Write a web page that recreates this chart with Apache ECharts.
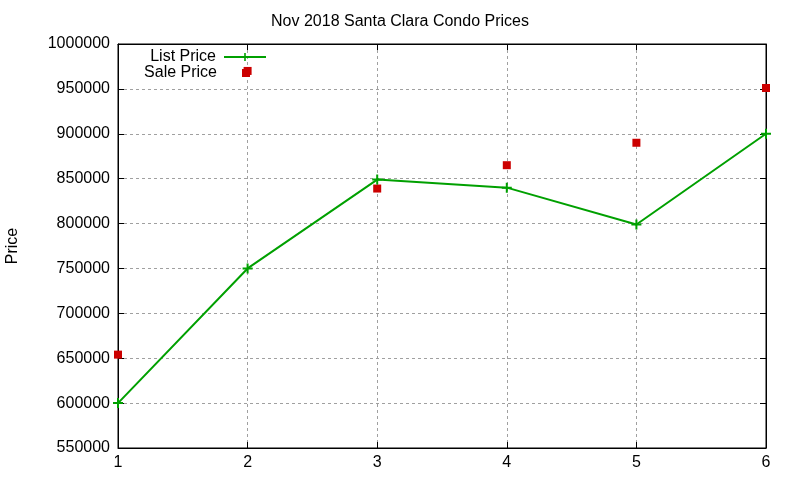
<!DOCTYPE html>
<html>
<head>
	<meta charset="utf-8" />
	<title>Nov 2018 Santa Clara Condo Prices</title>
	<style type="text/css">
	*{margin: 0;padding: 0;}
	#chart{width: 800px;height: 480px;background: #fff;}
	</style>
</head>
<body>
<div id="chart"></div>
<script src="https://cdn.jsdelivr.net/npm/echarts@6/dist/echarts.min.js"></script>
<script type="text/javascript">
	// data
	var months = [1, 2, 3, 4, 5, 6];
	var listPrice = [600000, 750000, 849000, 840000, 799000, 900000];
	var salePrice = [654000, 970000, 839000, 865000, 890000, 951000];

	var font = 'Liberation Sans, Arial, sans-serif';
	var plus = 'path://M4,0H6V4H10V6H6V10H4V6H0V4H4Z';

	var pairs = function(xs, ys) {
		var out = [];
		for (var i = 0; i < xs.length; i++) {
			out.push([xs[i], ys[i]]);
		}
		return out;
	};

	var gridLine = {show: true, lineStyle: {color: '#a0a0a0', type: [3, 3], width: 1}};
	var axisLine = {show: true, lineStyle: {color: '#000', width: 1}};
	var tick = {show: true, inside: true, length: 6, lineStyle: {color: '#000'}};

	var option = {
		animation: false,
		backgroundColor: '#fff',
		title: {
			text: 'Nov 2018 Santa Clara Condo Prices',
			left: 'center',
			top: 9,
			textStyle: {fontFamily: font, fontSize: 16, fontWeight: 'normal', color: '#000'}
		},
		legend: [
			{
				data: ['List Price'],
				align: 'right',
				right: 528,
				top: 44,
				itemWidth: 42,
				itemHeight: 10,
				textStyle: {fontFamily: font, fontSize: 16, color: '#000', padding: [0, 3, 0, 0]}
			},
			{
				data: ['Sale Price'],
				align: 'right',
				right: 545,
				top: 60,
				itemWidth: 8,
				itemHeight: 8,
				textStyle: {fontFamily: font, fontSize: 16, color: '#000', padding: [0, 20, 0, 0]}
			}
		],
		grid: {
			left: 118, right: 34, top: 44, bottom: 32,
			outerBoundsMode: 'none',
			show: true, borderColor: '#000', borderWidth: 1
		},
		xAxis: [
			{
				type: 'value', min: 1, max: 6, interval: 1,
				axisLine: axisLine, axisTick: tick, splitLine: gridLine,
				axisLabel: {fontFamily: font, fontSize: 16, color: '#000', margin: 7}
			},
			{
				type: 'value', position: 'top', min: 1, max: 6, interval: 1,
				axisLine: axisLine, axisTick: tick, splitLine: {show: false},
				axisLabel: {show: false}
			}
		],
		yAxis: [
			{
				type: 'value', min: 550000, max: 1000000, interval: 50000,
				name: 'Price', nameLocation: 'middle', nameGap: 97, nameRotate: 90,
				nameTextStyle: {fontFamily: font, fontSize: 16, color: '#000'},
				axisLine: axisLine, axisTick: tick, splitLine: gridLine,
				axisLabel: {
					fontFamily: font, fontSize: 16, color: '#000', margin: 8,
					formatter: function(v) { return String(v); }
				}
			},
			{
				type: 'value', position: 'right', min: 550000, max: 1000000, interval: 50000,
				axisLine: axisLine, axisTick: tick, splitLine: {show: false},
				axisLabel: {show: false}
			}
		],
		series: [
			{
				name: 'List Price',
				type: 'line',
				data: pairs(months, listPrice),
				symbol: plus,
				symbolSize: 10,
				lineStyle: {color: '#00a000', width: 2},
				itemStyle: {color: '#00a000'}
			},
			{
				name: 'Sale Price',
				type: 'scatter',
				data: pairs(months, salePrice),
				symbol: 'rect',
				symbolSize: 8,
				itemStyle: {color: '#cc0000', opacity: 1}
			}
		]
	};

	var chart = echarts.init(document.getElementById('chart'));
	chart.setOption(option);
</script>
</body>
</html>
